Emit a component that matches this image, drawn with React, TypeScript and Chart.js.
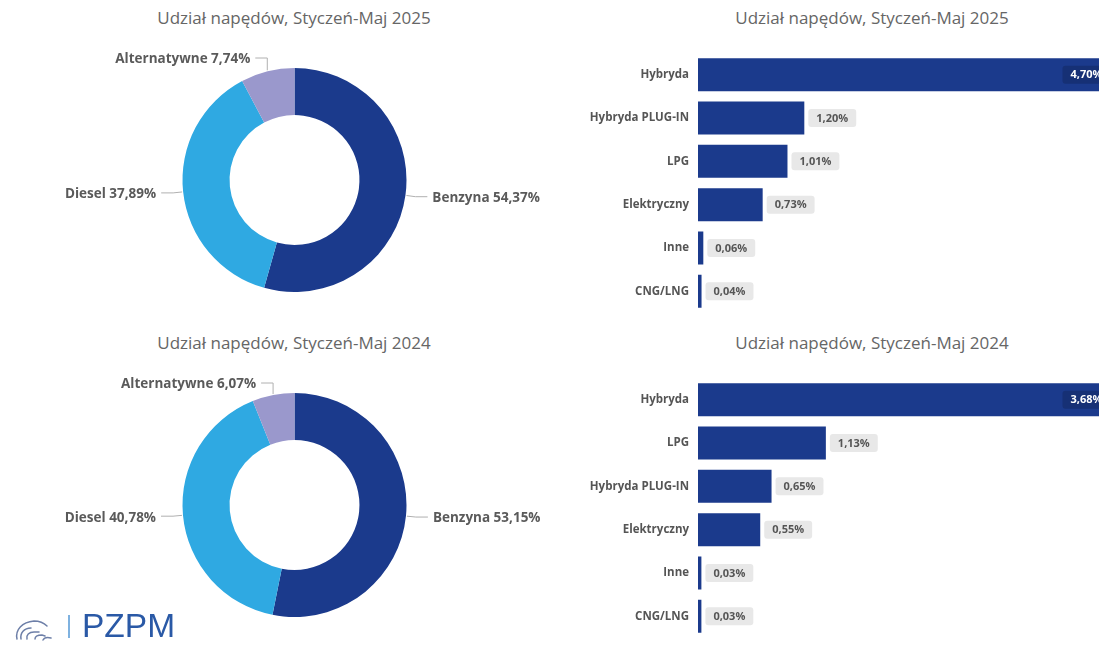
import React, { useEffect, useRef } from 'react';
import { Chart, registerables } from 'chart.js';

Chart.register(...registerables);

const FONT = '"Open Sans", "Noto Sans", sans-serif';

// ---------- data ----------
const donutLabels = ['Benzyna', 'Diesel', 'Alternatywne'];
const donut2025Values = [54.37, 37.89, 7.74];
const donut2024Values = [53.15, 40.78, 6.07];
const donutColors = ['#1B3A8C', '#2FA9E2', '#9A98CC'];

const bar2025Categories = ['Hybryda', 'Hybryda PLUG-IN', 'LPG', 'Elektryczny', 'Inne', 'CNG/LNG'];
const bar2025Values = [4.7, 1.2, 1.01, 0.73, 0.06, 0.04];
const bar2024Categories = ['Hybryda', 'LPG', 'Hybryda PLUG-IN', 'Elektryczny', 'Inne', 'CNG/LNG'];
const bar2024Values = [3.68, 1.13, 0.65, 0.55, 0.03, 0.03];

const title2025 = 'Udział napędów, Styczeń-Maj 2025';
const title2024 = 'Udział napędów, Styczeń-Maj 2024';

const BAR_COLOR = '#1B3A8C';

const fmt = (v: number) => v.toFixed(2).replace('.', ',') + '%';

// ---------- plugins ----------
const donutLabelPlugin = {
  id: 'donutLabelPlugin',
  afterDatasetsDraw(chart: any) {
    const ctx = chart.ctx;
    const meta = chart.getDatasetMeta(0);
    const labels = chart.data.labels as string[];
    const data = chart.data.datasets[0].data as number[];
    ctx.save();
    ctx.font = `bold 13.5px ${FONT}`;
    ctx.textBaseline = 'middle';
    meta.data.forEach((arc: any, i: number) => {
      const { x, y, startAngle, endAngle, outerRadius } = arc.getProps(
        ['x', 'y', 'startAngle', 'endAngle', 'outerRadius'],
        true
      );
      const mid = (startAngle + endAngle) / 2;
      const cos = Math.cos(mid);
      const sin = Math.sin(mid);
      const left = cos < 0;
      const p1 = { x: x + cos * (outerRadius + 1), y: y + sin * (outerRadius + 1) };
      let p2;
      if (sin < -0.707) {
        p2 = { x: p1.x, y: y - outerRadius - 10 };
      } else {
        p2 = { x: x + cos * (outerRadius + 10), y: y + sin * (outerRadius + 10) };
      }
      const p3 = { x: p2.x + (left ? -12 : 12), y: p2.y };
      ctx.strokeStyle = '#B0B0B0';
      ctx.lineWidth = 1;
      ctx.beginPath();
      ctx.moveTo(p1.x, p1.y);
      ctx.lineTo(p2.x, p2.y);
      ctx.lineTo(p3.x, p3.y);
      ctx.stroke();
      ctx.fillStyle = '#5A5A5A';
      ctx.textAlign = left ? 'right' : 'left';
      ctx.fillText(`${labels[i]} ${fmt(data[i])}`, p3.x + (left ? -5 : 5), p3.y + 1.5);
    });
    ctx.restore();
  },
};

const barValuePlugin = {
  id: 'barValuePlugin',
  afterDatasetsDraw(chart: any) {
    const ctx = chart.ctx;
    const meta = chart.getDatasetMeta(0);
    const data = chart.data.datasets[0].data as number[];
    ctx.save();
    ctx.font = `bold 11px ${FONT}`;
    ctx.textBaseline = 'middle';
    ctx.textAlign = 'left';
    meta.data.forEach((bar: any, i: number) => {
      const { x, y } = bar.getProps(['x', 'y'], true);
      const text = fmt(data[i]);
      const tw = ctx.measureText(text).width;
      const bw = tw + 16;
      const bh = 18;
      let bx = x + 4;
      let inside = false;
      if (bx + bw > chart.chartArea.right) {
        inside = true;
        bx = x - 4 - bw;
      }
      ctx.fillStyle = inside ? '#163075' : '#E8E8E8';
      ctx.beginPath();
      (ctx as any).roundRect(bx, y - bh / 2, bw, bh, 3);
      ctx.fill();
      ctx.fillStyle = inside ? '#FFFFFF' : '#555555';
      ctx.fillText(text, bx + 8, y + 0.5);
    });
    ctx.restore();
  },
};

// ---------- configs ----------
function donutConfig(values: number[], padBottom: number) {
  return {
    type: 'doughnut',
    data: {
      labels: donutLabels,
      datasets: [{ data: values, backgroundColor: donutColors, borderWidth: 0 }],
    },
    options: {
      responsive: false,
      animation: false,
      cutout: '58%',
      layout: { padding: { top: 68, bottom: padBottom, left: 0, right: 0 } },
      plugins: { legend: { display: false }, tooltip: { enabled: false }, title: { display: false } },
    },
    plugins: [donutLabelPlugin],
  };
}

function barConfig(categories: string[], values: number[], padBottom: number) {
  return {
    type: 'bar',
    data: {
      labels: categories,
      datasets: [
        {
          data: values,
          backgroundColor: BAR_COLOR,
          borderWidth: 0,
          categoryPercentage: 1,
          barPercentage: 0.76,
        },
      ],
    },
    options: {
      indexAxis: 'y',
      responsive: false,
      animation: false,
      layout: { padding: { top: 53, bottom: padBottom, left: 0, right: 25.6 } },
      plugins: { legend: { display: false }, tooltip: { enabled: false } },
      scales: {
        x: { display: false, min: 0, max: Math.max(...values) },
        y: {
          grid: { display: false, drawTicks: true, tickLength: 9 },
          border: { display: false },
          ticks: {
            color: '#555555',
            padding: 0,
            font: { family: FONT, size: 11.5, weight: 'bold' },
          },
          afterFit: (s: any) => {
            s.width = 118;
          },
        },
      },
    },
    plugins: [barValuePlugin],
  };
}

// ---------- components ----------
function ChartBox(props: { left: number; top: number; width: number; height: number; config: any }) {
  const ref = useRef<HTMLCanvasElement | null>(null);
  useEffect(() => {
    if (!ref.current) return;
    const chart = new Chart(ref.current, props.config);
    return () => chart.destroy();
  }, []);
  return (
    <canvas
      ref={ref}
      width={props.width}
      height={props.height}
      style={{
        position: 'absolute',
        left: props.left,
        top: props.top,
        width: props.width,
        height: props.height,
      }}
    />
  );
}

function Title(props: { cx: number; cy: number; text: string }) {
  return (
    <div
      style={{
        position: 'absolute',
        left: props.cx - 200,
        top: props.cy - 12,
        width: 400,
        height: 24,
        lineHeight: '24px',
        textAlign: 'center',
        fontFamily: FONT,
        fontSize: 17,
        color: '#666666',
        whiteSpace: 'nowrap',
      }}
    >
      {props.text}
    </div>
  );
}

function Logo() {
  return (
    <div style={{ position: 'absolute', left: 12, top: 610, width: 190, height: 36 }}>
      <svg width="42" height="28" viewBox="0 0 42 28" style={{ position: 'absolute', left: 2, top: 5 }}>
        <g fill="none" stroke="#6D7FA8" strokeWidth="1.5" strokeLinecap="round">
          <path d="M3 24 C1 15 8 7 20 6 C26 6 30 8 33 11" />
          <path d="M7 24 C6 18 10 13 17 13" />
          <path d="M13 24 C12 20 15 17 20 17 L25 17" />
          <path d="M21 24 C21 21 24 20 28 20 L31 21" />
          <path d="M29 25 C30 23 33 22 37 23" />
        </g>
      </svg>
      <div
        style={{
          position: 'absolute',
          left: 56,
          top: 5,
          width: 1.5,
          height: 23,
          background: '#7FB2E0',
        }}
      />
      <div
        style={{
          position: 'absolute',
          left: 70,
          top: -4,
          fontFamily: '"Liberation Sans", Arial, sans-serif',
          fontSize: 33.5,
          lineHeight: '40px',
          color: '#2A59A6',
        }}
      >
        PZPM
      </div>
    </div>
  );
}

export default function App() {
  return (
    <div
      style={{
        position: 'fixed',
        left: 0,
        top: 0,
        width: 1099,
        height: 646,
        overflow: 'hidden',
        background: '#FFFFFF',
      }}
    >
      <Title cx={294} cy={18} text={title2025} />
      <Title cx={872} cy={18} text={title2025} />
      <Title cx={294} cy={343} text={title2024} />
      <Title cx={872} cy={343} text={title2024} />
      <ChartBox left={0} top={0} width={589} height={322} config={donutConfig(donut2025Values, 30)} />
      <ChartBox left={0} top={325} width={589} height={321} config={donutConfig(donut2024Values, 29)} />
      <ChartBox left={580} top={0} width={560} height={322} config={barConfig(bar2025Categories, bar2025Values, 9)} />
      <ChartBox left={580} top={325} width={560} height={321} config={barConfig(bar2024Categories, bar2024Values, 8)} />
      <Logo />
    </div>
  );
}
